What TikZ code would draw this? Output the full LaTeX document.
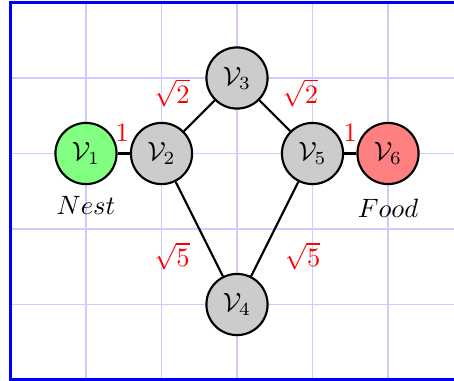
\documentclass[tikz,border=0pt]{standalone}
\begin{document}
\begin{tikzpicture}[
  vtx/.style={circle, draw=black, thick, minimum size=0.81cm, inner sep=0pt},
  edge/.style={draw=black, thick},
  wlab/.style={text=red, inner sep=1pt},
  tag/.style={inner sep=0pt}
]
\useasboundingbox (-0.139,-0.013) rectangle (5.874,5.033);
\clip (-0.139,-0.013) rectangle (5.874,5.033);
\draw[blue!20, thin] (0,0) grid (6,5);
\draw[blue, line width=1.2pt] (0,0) rectangle (6,5);

\node[vtx, fill=green!50] (v1) at (1,3) {$\mathcal{V}_1$};
\node[vtx, fill=gray!40] (v2) at (2,3) {$\mathcal{V}_2$};
\node[vtx, fill=gray!40] (v3) at (3,4) {$\mathcal{V}_3$};
\node[vtx, fill=gray!40] (v4) at (3,1) {$\mathcal{V}_4$};
\node[vtx, fill=gray!40] (v5) at (4,3) {$\mathcal{V}_5$};
\node[vtx, fill=red!50] (v6) at (5,3) {$\mathcal{V}_6$};

\node[tag] (nest) at (1,2.31) {$Nest$};
\node[tag] (food) at (5,2.28) {$Food$};

\path[edge] (v1) -- node[wlab, midway, shift={(-0.02,0.27)}] {$1$} (v2);
\path[edge] (v5) -- node[wlab, midway, shift={(0,0.27)}] {$1$} (v6);
\path[edge] (v2) -- node[wlab, midway, shift={(-0.36,0.3)}] {$\sqrt{2}$} (v3);
\path[edge] (v3) -- node[wlab, midway, shift={(0.34,0.3)}] {$\sqrt{2}$} (v5);
\path[edge] (v2) -- node[wlab, midway, shift={(-0.36,-0.36)}] {$\sqrt{5}$} (v4);
\path[edge] (v4) -- node[wlab, midway, shift={(0.37,-0.36)}] {$\sqrt{5}$} (v5);
\end{tikzpicture}
\end{document}
